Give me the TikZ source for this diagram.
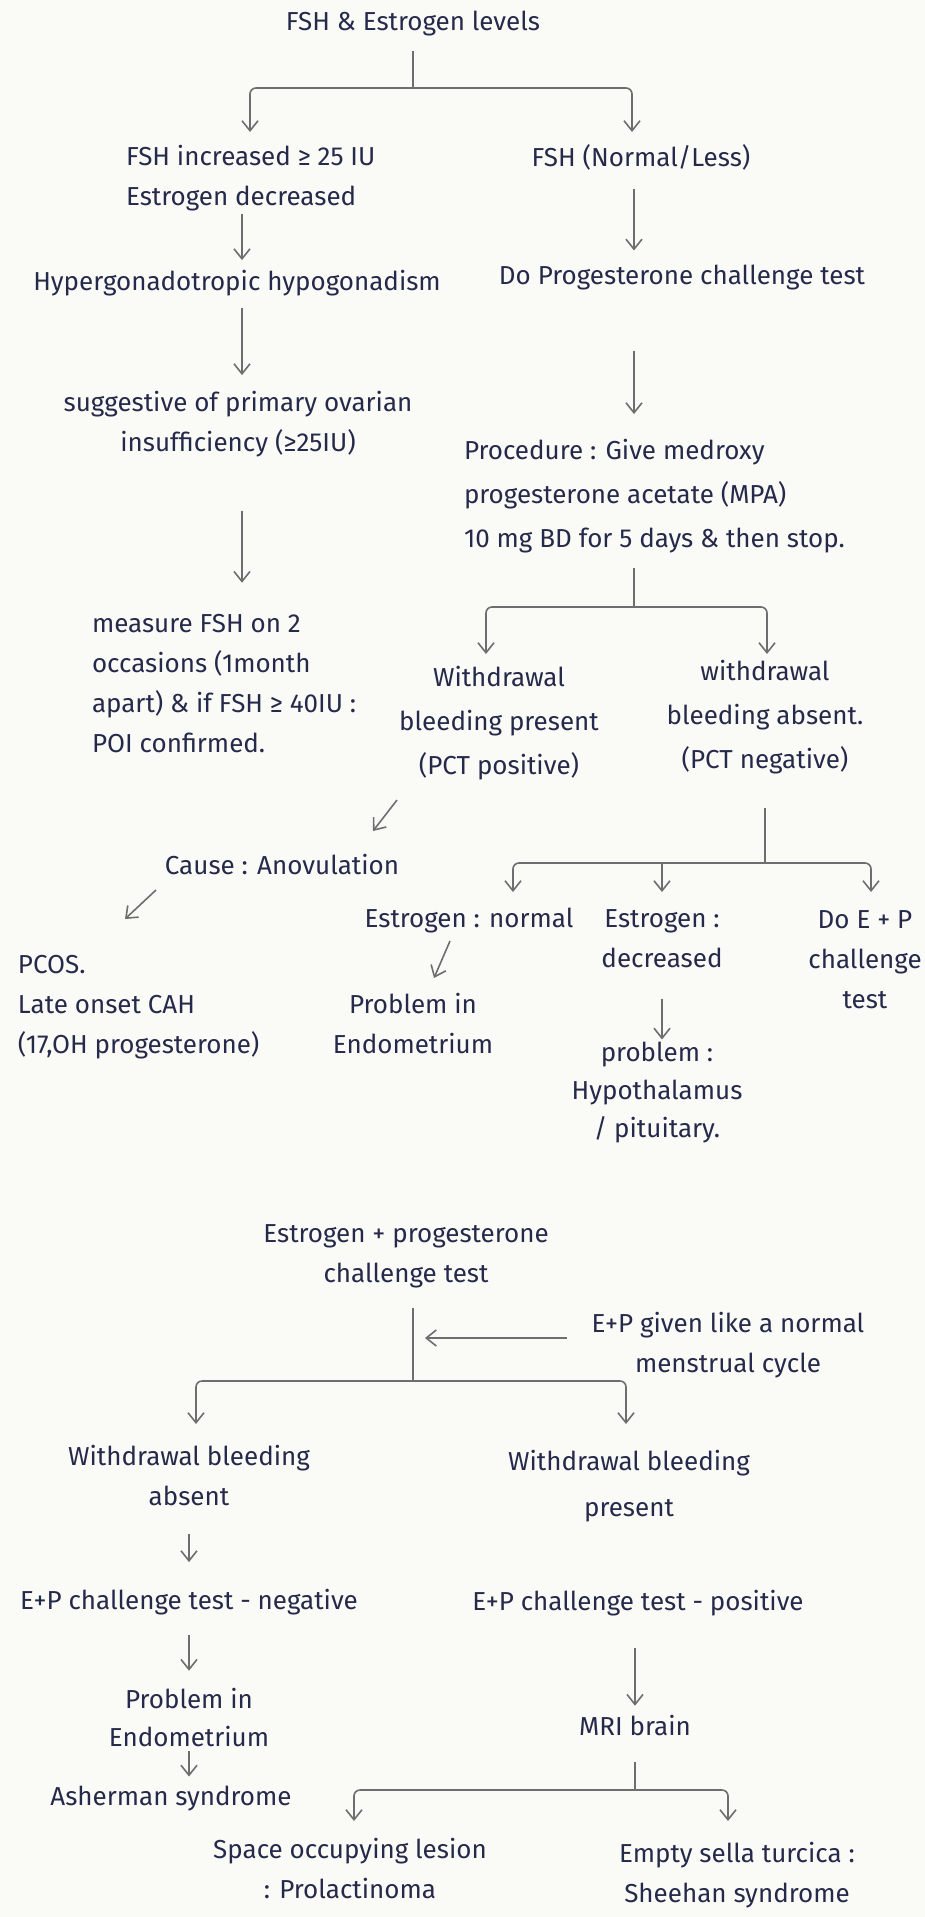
\documentclass[tikz,border=0pt]{standalone}
\usepackage{fontspec}
\setmainfont{Fira Sans}
\usetikzlibrary{arrows.meta}
\definecolor{ink}{HTML}{262A4A}
\definecolor{wire}{HTML}{6E6E6E}
\definecolor{paper}{HTML}{FAFAF7}
\begin{document}
\begin{tikzpicture}[x=0.5pt,y=-0.5pt,
  txt/.style={font=\fontsize{13}{20}\selectfont, text=ink, inner sep=0pt, outer sep=0pt, align=center},
  wide/.style={font=\fontsize{13}{22}\selectfont},
  tight/.style={font=\fontsize{13}{19}\selectfont},
  link/.style={draw=wire, line width=0.8pt},
  arr/.style={link, -{Straight Barb[length=5pt,width=8pt]}},
  fork/.style={arr, rounded corners=3pt}]

\fill[paper] (0,0) rectangle (925,1917);
\useasboundingbox (0,0) rectangle (925,1917);

% ---------- progesterone challenge part ----------
\node[txt] (title) at (413,24) {FSH \& Estrogen levels};
\node[txt, align=left, anchor=west] (fshinc) at (126,178) {FSH increased ≥ 25 IU\\Estrogen decreased};
\node[txt] (fshnl) at (641,157) {FSH (Normal/Less)};
\node[txt] (hyper) at (237,283) {Hypergonadotropic hypogonadism};
\node[txt] (pct) at (682,278) {Do Progesterone challenge test};
\node[txt] (poi) at (238,424) {suggestive of primary ovarian\\insufficiency (≥25IU)};
\node[txt, wide, align=left, anchor=west] (proc) at (464,496) {Procedure : Give medroxy\\progesterone acetate (MPA)\\10 mg BD for 5 days \& then stop.};
\node[txt, align=left, anchor=west] (meas) at (92,684) {measure FSH on 2\\occasions (1month\\apart) \& if FSH ≥ 40IU :\\POI confirmed.};
\node[txt, wide] (wbp) at (499,723) {Withdrawal\\bleeding present\\(PCT positive)};
\node[txt, wide] (wba) at (765,717) {withdrawal\\bleeding absent.\\(PCT negative)};
\node[txt] (cause) at (282,865) {Cause : Anovulation};
\node[txt, align=left, anchor=west] (pcos) at (18,1007) {PCOS.\\Late onset CAH\\(17,OH progesterone)};
\node[txt] (en) at (469,921) {Estrogen : normal};
\node[txt] (ed) at (662,939) {Estrogen :\\decreased};
\node[txt] (dep) at (865,960) {Do E + P\\challenge\\test};
\node[txt] (pie1) at (413,1024) {Problem in\\Endometrium};
\node[txt, tight] (hyp) at (657,1093) {problem :\\Hypothalamus\\/ pituitary.};

% ---------- estrogen + progesterone challenge part ----------
\node[txt] (ep) at (406,1256) {Estrogen + progesterone\\challenge test};
\node[txt] (epgiven) at (728,1345) {E+P given like a normal\\menstrual cycle};
\node[txt] (wba2) at (189,1475) {Withdrawal bleeding\\absent};
\node[txt, font=\fontsize{13}{23}\selectfont] (wbp2) at (629,1486) {Withdrawal bleeding\\present};
\node[txt] (epneg) at (189,1602) {E+P challenge test - negative};
\node[txt] (eppos) at (638,1603) {E+P challenge test - positive};
\node[txt, tight] (pie2) at (189,1717) {Problem in\\Endometrium};
\node[txt] (ash) at (171,1798) {Asherman syndrome};
\node[txt] (mri) at (635,1725) {MRI brain};
\node[txt] (sol) at (350,1868) {Space occupying lesion\\: Prolactinoma};
\node[txt] (est) at (737,1875) {Empty sella turcica :\\Sheehan syndrome};

% ---------- connectors ----------
\coordinate (colA) at (242,0);
\coordinate (colB) at (634,0);

\coordinate (br1) at (413,88);
\coordinate (t1) at (250,132);
\coordinate (t2) at (632,132);
\draw[link, shorten <=7pt] (title.south) -- (br1);
\draw[fork] (br1) -| (t1);
\draw[fork] (br1) -| (t2);

\draw[arr, shorten <=1.5pt, shorten >=5pt] (fshinc.south -| colA) -- (hyper.north -| colA);
\draw[arr, shorten <=9.5pt, shorten >=7.5pt] (fshnl.south -| colB) -- (pct.north -| colB);
\draw[arr, shorten <=6pt, shorten >=8pt] (hyper.south -| colA) -- (poi.north -| colA);
\draw[arr, shorten <=30pt, shorten >=12.5pt] (pct.south -| colB) -- (proc.north -| colB);
\draw[arr, shorten <=27pt, shorten >=16pt] (poi.south -| colA) -- (meas.north -| colA);

\coordinate (br2) at (634,607);
\coordinate (t3) at (486,654);
\coordinate (t4) at (767,654);
\draw[link, shorten <=7.5pt] (proc.south -| br2) -- (br2);
\draw[fork] (br2) -| (t3);
\draw[fork] (br2) -| (t4);

\coordinate (d1a) at (397,800);
\coordinate (d1b) at (373,831);
\draw[arr] (d1a) -- (d1b);
\coordinate (d2a) at (156,890);
\coordinate (d2b) at (125,919);
\draw[arr] (d2a) -- (d2b);

\coordinate (br3) at (765,863);
\coordinate (t5) at (513,892);
\coordinate (t6) at (662,892);
\coordinate (t7) at (871,892);
\draw[link, shorten <=17pt] (wba.south -| br3) -- (br3);
\draw[fork] (br3) -| (t5);
\draw[fork] (br3) -| (t7);
\draw[arr] (br3 -| t6) -- (t6);

\coordinate (d3a) at (450,941);
\coordinate (d3b) at (434,978);
\draw[arr] (d3a) -- (d3b);
\draw[arr, shorten <=15.5pt, shorten >=1.5pt] (ed.south) -- (ed.south |- hyp.north);

\coordinate (br4) at (413,1381);
\coordinate (sidetip) at (425,1338);
\coordinate (t8) at (196,1424);
\coordinate (t9) at (626,1424);
\draw[link, shorten <=10pt] (ep.south -| br4) -- (br4);
\draw[arr, shorten <=12.5pt] (epgiven.west |- sidetip) -- (sidetip);
\draw[fork] (br4) -| (t8);
\draw[fork] (br4) -| (t9);

\draw[arr, shorten <=14.5pt, shorten >=13.5pt] (wba2.south) -- (epneg.north);
\draw[arr, shorten <=10pt, shorten >=8.5pt] (epneg.south) -- (pie2.north);
\draw[arr, shorten <=2.5pt, shorten >=4.5pt] (pie2.south) -- (pie2.south |- ash.north);
\draw[arr, shorten <=16pt, shorten >=4.5pt] (eppos.south -| mri.north) -- (mri.north);

\coordinate (br5) at (635,1790);
\coordinate (t10) at (354,1821);
\coordinate (t11) at (728,1821);
\draw[link, shorten <=13.5pt] (mri.south) -- (br5);
\draw[fork] (br5) -| (t10);
\draw[fork] (br5) -| (t11);

\end{tikzpicture}
\end{document}
